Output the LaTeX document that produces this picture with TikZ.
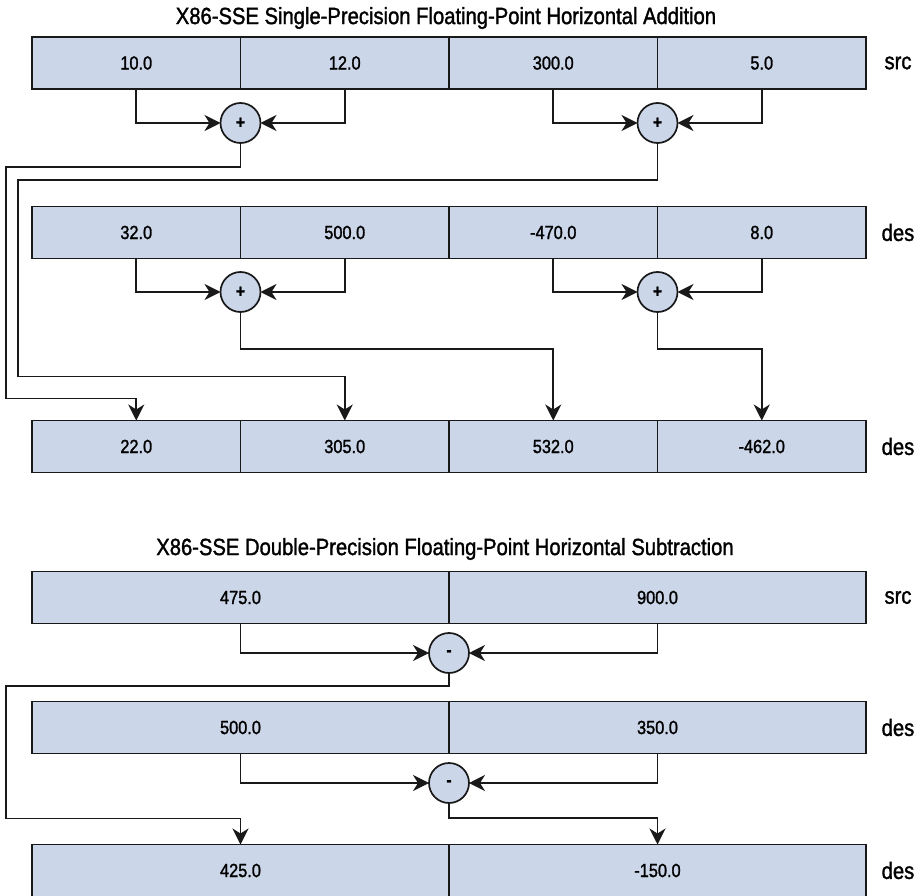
\documentclass[tikz,border=0pt]{standalone}
\usepackage{fontspec}
\setmainfont{Liberation Sans}[FakeStretch=0.86,FakeBold=1.4]
\usepackage{tikz}
\usetikzlibrary{arrows.meta, positioning, calc}
\definecolor{RegFill}{RGB}{203, 214, 232}
\definecolor{RegLine}{RGB}{25, 25, 25}

\tikzset{
  cell/.style={fill=RegFill,draw=RegLine,line width=1.8pt,minimum height=52pt,outer sep=0pt,inner sep=0pt,font=\fontsize{19}{22}\selectfont},
  quadcell/.style={cell,minimum width=208.5pt},
  dualcell/.style={cell,minimum width=417pt},
  sumop/.style={circle,fill=RegFill,draw=RegLine,line width=1.7pt,minimum size=40pt,inner sep=0pt,outer sep=0pt,font=\fontsize{18}{18}\selectfont\bfseries},
  reglabel/.style={font=\fontsize{23.5}{26}\selectfont},
  heading/.style={font=\fontsize{23.5}{26}\selectfont},
  flow/.style={draw=RegLine,line width=1.7pt,-{Stealth[length=16pt,width=16pt,inset=5pt]}}
}

\begin{document}
\begin{tikzpicture}[x=1pt,y=-1pt]
    \useasboundingbox (0,0) rectangle (919,896);
    % single precision
    \node[heading] (titleA) at (446,18) {X86-SSE Single-Precision Floating-Point Horizontal Addition};
    \node[quadcell] (r1c1) at (136.25,63) {10.0};
    \node[quadcell] (r1c2) at (344.75,63) {12.0};
    \node[quadcell] (r1c3) at (553.25,63) {300.0};
    \node[quadcell] (r1c4) at (761.75,63) {5.0};
    \node[reglabel] (lblA1) at (898,63) {src};
    \node[quadcell] (r2c1) at (136.25,232.5) {32.0};
    \node[quadcell] (r2c2) at (344.75,232.5) {500.0};
    \node[quadcell] (r2c3) at (553.25,232.5) {-470.0};
    \node[quadcell] (r2c4) at (761.75,232.5) {8.0};
    \node[reglabel] (lblA2) at (898,232.5) {des};
    \node[quadcell] (r3c1) at (136.25,446.5) {22.0};
    \node[quadcell] (r3c2) at (344.75,446.5) {305.0};
    \node[quadcell] (r3c3) at (553.25,446.5) {532.0};
    \node[quadcell] (r3c4) at (761.75,446.5) {-462.0};
    \node[reglabel] (lblA3) at (898,446.5) {des};
    \node[sumop] (s1) at (240.5,123) {+};
    \node[sumop] (s2) at (657.5,123) {+};
    \node[sumop] (s3) at (240.5,292) {+};
    \node[sumop] (s4) at (657.5,292) {+};
    \draw[flow] (r1c1.south) |- (s1.west);
    \draw[flow] (r1c2.south) |- (s1.east);
    \draw[flow] (r1c3.south) |- (s2.west);
    \draw[flow] (r1c4.south) |- (s2.east);
    \draw[flow] (r2c1.south) |- (s3.west);
    \draw[flow] (r2c2.south) |- (s3.east);
    \draw[flow] (r2c3.south) |- (s4.west);
    \draw[flow] (r2c4.south) |- (s4.east);
    \draw[flow] (s1.south) |- (6,167) |- ([yshift=22pt]r3c1.north) -- (r3c1.north);
    \draw[flow] (s2.south) |- (18,180) |- ([yshift=44pt]r3c2.north) -- (r3c2.north);
    \draw[flow] (s3.south) -- ++(0,37) -| (r3c3.north);
    \draw[flow] (s4.south) -- ++(0,37) -| (r3c4.north);
    % double precision
    \node[heading] (titleB) at (445,549) {X86-SSE Double-Precision Floating-Point Horizontal Subtraction};
    \node[dualcell] (r4c1) at (240.5,597.5) {475.0};
    \node[dualcell] (r4c2) at (657.5,597.5) {900.0};
    \node[reglabel] (lblB1) at (898,597.5) {src};
    \node[dualcell] (r5c1) at (240.5,727.5) {500.0};
    \node[dualcell] (r5c2) at (657.5,727.5) {350.0};
    \node[reglabel] (lblB2) at (898,727.5) {des};
    \node[dualcell] (r6c1) at (240.5,870.5) {425.0};
    \node[dualcell] (r6c2) at (657.5,870.5) {-150.0};
    \node[reglabel] (lblB3) at (898,870.5) {des};
    \node[sumop] (d1) at (449,653) {-};
    \node[sumop] (d2) at (449,783) {-};
    \draw[flow] (r4c1.south) |- (d1.west);
    \draw[flow] (r4c2.south) |- (d1.east);
    \draw[flow] (r5c1.south) |- (d2.west);
    \draw[flow] (r5c2.south) |- (d2.east);
    \draw[flow] (d1.south) |- (6,686) |- ([yshift=26pt]r6c1.north) -- (r6c1.north);
    \draw[flow] (d2.south) -- ++(0,15) -| (r6c2.north);
  \end{tikzpicture}
\end{document}
